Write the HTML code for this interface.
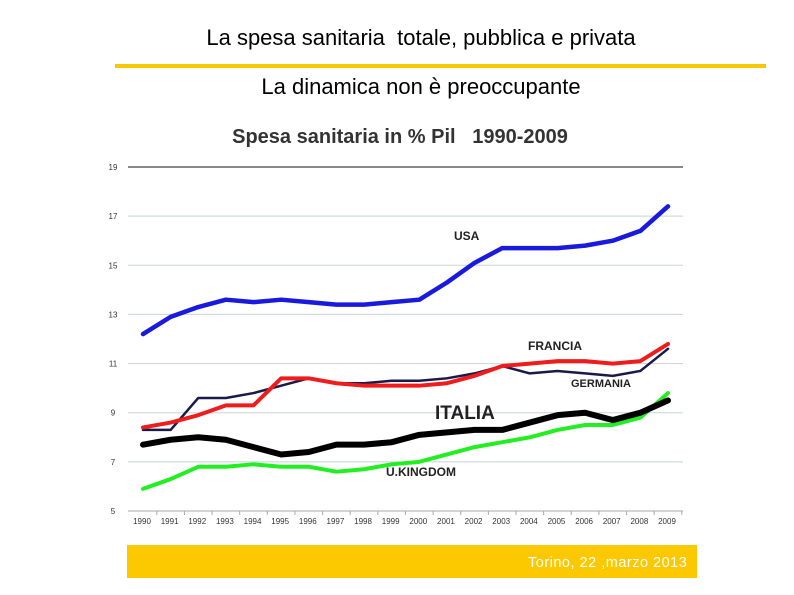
<!DOCTYPE html>
<html><head><meta charset="utf-8"><style>
body{margin:0;width:794px;height:595px;background:#fff;position:relative;overflow:hidden;font-family:"Liberation Sans",sans-serif}
.t{position:absolute;left:0;width:842px;text-align:center;font-size:22px;color:#000}
</style></head><body>
<div class="t" style="top:25px">La spesa sanitaria &nbsp;totale, pubblica e privata</div>
<div style="position:absolute;left:115px;top:64px;width:651px;height:4px;background:#f5c800"></div>
<div class="t" style="top:74px">La dinamica non è preoccupante</div>
<svg id="c" width="794" height="595" style="position:absolute;left:0;top:0">
<text x="400" y="143" text-anchor="middle" font-size="20" font-weight="bold" fill="#333" font-family="Liberation Sans,sans-serif">Spesa sanitaria in % Pil &nbsp; 1990-2009</text>
</svg>
<div style="position:absolute;left:127px;top:545px;width:570px;height:33px;background:#fcc800"></div>
<div style="position:absolute;left:528px;top:555px;font-size:14.5px;color:#fff;letter-spacing:0.5px">Torino, 22 ,marzo 2013</div>
<script>
const years=[1990,1991,1992,1993,1994,1995,1996,1997,1998,1999,2000,2001,2002,2003,2004,2005,2006,2007,2008,2009];
const yTicks=[5,7,9,11,13,15,17,19];
const usa=[12.2,12.9,13.3,13.6,13.5,13.6,13.5,13.4,13.4,13.5,13.6,14.3,15.1,15.7,15.7,15.7,15.8,16.0,16.4,17.4];
const francia=[8.4,8.6,8.9,9.3,9.3,10.4,10.4,10.2,10.1,10.1,10.1,10.2,10.5,10.9,11.0,11.1,11.1,11.0,11.1,11.8];
const germania=[8.3,8.3,9.6,9.6,9.8,10.1,10.4,10.2,10.2,10.3,10.3,10.4,10.6,10.9,10.6,10.7,10.6,10.5,10.7,11.6];
const italia=[7.7,7.9,8.0,7.9,7.6,7.3,7.4,7.7,7.7,7.8,8.1,8.2,8.3,8.3,8.6,8.9,9.0,8.7,9.0,9.5];
const uk=[5.9,6.3,6.8,6.8,6.9,6.8,6.8,6.6,6.7,6.9,7.0,7.3,7.6,7.8,8.0,8.3,8.5,8.5,8.8,9.8];
const svg=document.getElementById('c');const NS='http://www.w3.org/2000/svg';
const X=i=>143+i*(668-143)/(years.length-1);
const Y=v=>511-(v-5)*(511-167)/14;
function mk(t,a){const e=document.createElementNS(NS,t);for(const k in a)e.setAttribute(k,a[k]);svg.appendChild(e);return e;}
yTicks.forEach(v=>{
 const g=mk('line',{x1:128,x2:683,y1:Y(v),y2:Y(v),stroke:v==19?'#888':(v==5?'#aaa':'#c5d5d8'),'stroke-width':v==19?2:1});
 
 
 const t=mk('text',{x:113,y:Y(v)+3,'font-size':8,'text-anchor':'middle',fill:'#333'});t.textContent=v;
 
 
});
years.forEach((y,i)=>{
 const t=mk('text',{x:X(i)-1,y:524,'font-size':8,'text-anchor':'middle',fill:'#333'});t.textContent=y;
 
 
 const k=mk('line',{x1:X(i)+13.8,x2:X(i)+13.8,y1:511,y2:515,stroke:'#aaa'});
 
 
});
function series(d,c,w,n){const p=mk('polyline',{points:d.map((v,i)=>X(i)+','+Y(v)).join(' '),fill:'none',stroke:c,'stroke-width':w,'stroke-linejoin':'round','stroke-linecap':'round'});
 
 }
series(germania,'#1a1a4a',2.5,'line-germania');
series(francia,'#ee1c1c',4,'line-francia');
series(uk,'#22ee22',4,'line-uk');
series(italia,'#000',6,'line-italia');
series(usa,'#1a1adc',4.5,'line-usa');
function lab(x,y,s,fs,n){const t=mk('text',{x:x,y:y,'font-size':fs,'font-weight':'bold',fill:'#222'});t.textContent=s;
 
 }
lab(454,240,'USA',12,'label-usa');
lab(528,350,'FRANCIA',12,'label-francia');
lab(571,387,'GERMANIA',11,'label-germania');
lab(435,419,'ITALIA',19,'label-italia');
lab(386,476,'U.KINGDOM',12,'label-uk');
</script>
</body></html>
